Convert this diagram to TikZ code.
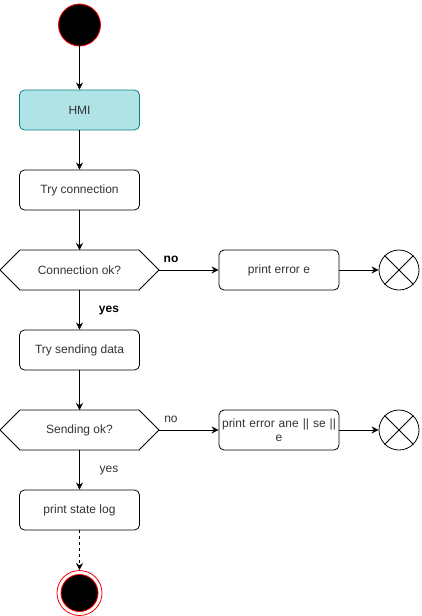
\documentclass[tikz,border=0pt]{standalone}
\usepackage{fontspec}
\setmainfont{Liberation Sans}
\usetikzlibrary{arrows.meta,positioning}
\definecolor{hmifill}{HTML}{B0E3E6}
\definecolor{hmidraw}{HTML}{0E8088}
\definecolor{txt}{HTML}{333333}
\tikzset{
  x=1pt,y=-1pt,
  every node/.style={font=\fontsize{12}{14}\selectfont, text=txt},
  actbox/.style={draw=black, rounded corners=5pt, minimum width=120pt, minimum height=40pt, inner sep=1pt, align=center, line width=0.8pt, fill=white},
  decide/.style={minimum width=159pt, minimum height=40pt, inner sep=0pt, outer sep=0pt},
  hexline/.style={draw=black, line width=0.8pt},
  flow/.style={-{Stealth[length=7pt,width=7pt]}, line width=0.8pt},
  lbl/.style={font=\fontsize{12}{14}\selectfont, text=black},
}
\newcommand{\hexaround}[1]{%
  \draw[hexline] ([xshift=20pt]#1.north west) -- ([xshift=-20pt]#1.north east) -- (#1.east) -- ([xshift=-20pt]#1.south east) -- ([xshift=20pt]#1.south west) -- (#1.west) -- cycle;}
\begin{document}
\begin{tikzpicture}
\useasboundingbox (0,0) rectangle (421,616);
% start
\node[circle, draw=red, fill=black, minimum size=42pt, inner sep=0pt, line width=0.8pt] (start) at (79.5,25) {};
\node[actbox, fill=hmifill, draw=hmidraw] (hmi) at (79.5,110) {HMI};
\node[actbox] (tryc) at (79.5,190) {Try connection};
\node[decide] (cok) at (79.5,270) {Connection ok?};
\hexaround{cok}
\node[actbox] (pe1) at (279,270) {print error e};
\node[circle, draw=black, minimum size=40pt, inner sep=0pt, line width=0.8pt] (x1) at (399,270) {};
\node[actbox] (trys) at (79.5,350) {Try sending data};
\node[decide] (sok) at (79.5,430) {Sending ok?};
\hexaround{sok}
\node[actbox, text width=118pt] (pe2) at (279,430) {print error ane || se ||\\e};
\node[circle, draw=black, minimum size=40pt, inner sep=0pt, line width=0.8pt] (x2) at (399,430) {};
\node[actbox] (psl) at (79.5,510) {print state log};
\node[circle, draw=red, fill=white, minimum size=45pt, inner sep=0pt, line width=0.8pt] (fin) at (79.5,593) {};
\node[circle, draw=red, fill=black, minimum size=37pt, inner sep=0pt, line width=0.8pt] (fininner) at (fin.center) {};
% crosses
\draw[line width=0.8pt] (x1.north east) -- (x1.south west) (x1.north west) -- (x1.south east);
\draw[line width=0.8pt] (x2.north east) -- (x2.south west) (x2.north west) -- (x2.south east);
% connectors
\draw[flow] (start) -- (hmi);
\draw[flow] (hmi) -- (tryc);
\draw[flow] (tryc) -- (cok);
\draw[flow] (cok.east) -- (pe1.west);
\draw[flow] (pe1) -- (x1);
\draw[flow] (cok.south) -- (trys.north);
\draw[flow] (trys) -- (sok);
\draw[flow] (sok.east) -- (pe2.west);
\draw[flow] (pe2) -- (x2);
\draw[flow] (sok.south) -- (psl.north);
\draw[flow, dash pattern=on 3pt off 3pt] (psl) -- (fin);
% labels
\node[lbl, font=\fontsize{12}{14}\selectfont\bfseries] (no1) at (171,259.5) {no};
\node[lbl, font=\fontsize{12}{14}\selectfont\bfseries] (yes1) at (109,311) {yes};
\node[lbl, text=txt] (no2) at (171,419.5) {no};
\node[lbl, text=txt] (yes2) at (109,471) {yes};
\end{tikzpicture}
\end{document}
